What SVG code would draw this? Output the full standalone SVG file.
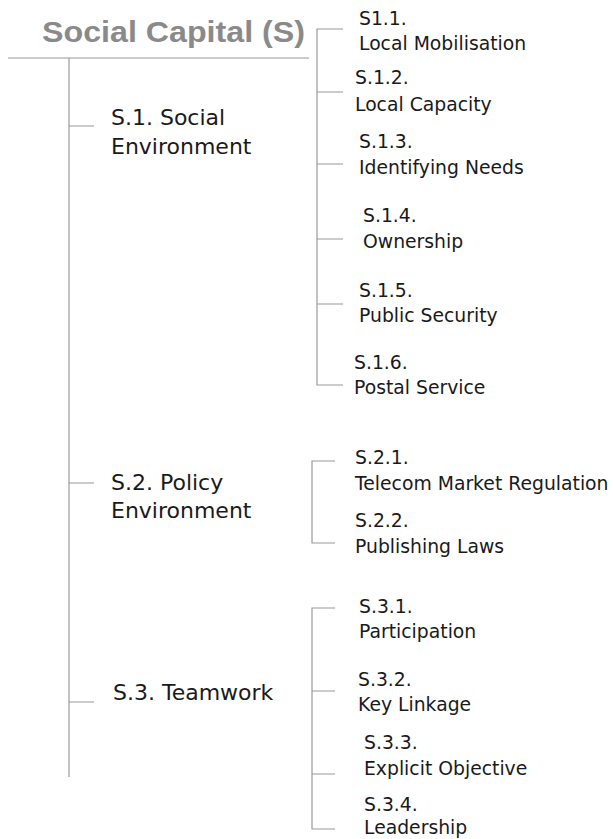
<svg xmlns="http://www.w3.org/2000/svg" width="613" height="839" viewBox="0 0 613 839">
<style>
.ln{stroke:#9a9a9a;stroke-width:1.2;fill:none}
.t1{font-family:"DejaVu Sans",Verdana,sans-serif;font-size:22px;fill:#1a1a1a}
.t2{font-family:"DejaVu Sans",Verdana,sans-serif;font-size:18.8px;fill:#1a1a1a}
.title{font-family:"Liberation Sans",Arial,sans-serif;font-weight:bold;font-size:30px;fill:#8a8a8a}
</style>
<rect width="613" height="839" fill="#ffffff"/>
<g id="connectors">
<path class="ln" d="M8 58H309"/>
<path class="ln" d="M69 58V777"/>
<path class="ln" d="M69 126H94M69 483H94M69 702H94"/>
<path class="ln" d="M343 29H317V385H343M317 92H343M317 164H343M317 239H343M317 304H343"/>
<path class="ln" d="M335 461H312V543H335"/>
<path class="ln" d="M335 608H312V829H335M312 691H335M312 774H335"/>
</g>
<g id="root"><text class="title" x="42" y="42" textLength="263" lengthAdjust="spacingAndGlyphs">Social Capital (S)</text></g>
<g id="s1"><text class="t1" x="111" y="125">S.1. Social</text><text class="t1" x="111" y="154">Environment</text></g>
<g id="s2"><text class="t1" x="111" y="490">S.2. Policy</text><text class="t1" x="111" y="518">Environment</text></g>
<g id="s3"><text class="t1" x="113" y="700">S.3. Teamwork</text></g>
<g id="s11"><text class="t2" x="359" y="25">S1.1.</text><text class="t2" x="359" y="50">Local Mobilisation</text></g>
<g id="s12"><text class="t2" x="355" y="84">S.1.2.</text><text class="t2" x="355" y="111">Local Capacity</text></g>
<g id="s13"><text class="t2" x="359" y="148">S.1.3.</text><text class="t2" x="359" y="174">Identifying Needs</text></g>
<g id="s14"><text class="t2" x="363" y="222">S.1.4.</text><text class="t2" x="363" y="248">Ownership</text></g>
<g id="s15"><text class="t2" x="359" y="297">S.1.5.</text><text class="t2" x="359" y="322">Public Security</text></g>
<g id="s16"><text class="t2" x="354" y="369">S.1.6.</text><text class="t2" x="354" y="394">Postal Service</text></g>
<g id="s21"><text class="t2" x="355" y="464">S.2.1.</text><text class="t2" x="355" y="490">Telecom Market Regulation</text></g>
<g id="s22"><text class="t2" x="355" y="527">S.2.2.</text><text class="t2" x="355" y="553">Publishing Laws</text></g>
<g id="s31"><text class="t2" x="359" y="613">S.3.1.</text><text class="t2" x="359" y="638">Participation</text></g>
<g id="s32"><text class="t2" x="358" y="686">S.3.2.</text><text class="t2" x="358" y="711">Key Linkage</text></g>
<g id="s33"><text class="t2" x="364" y="749">S.3.3.</text><text class="t2" x="364" y="775">Explicit Objective</text></g>
<g id="s34"><text class="t2" x="364" y="811">S.3.4.</text><text class="t2" x="364" y="834">Leadership</text></g>
</svg>
